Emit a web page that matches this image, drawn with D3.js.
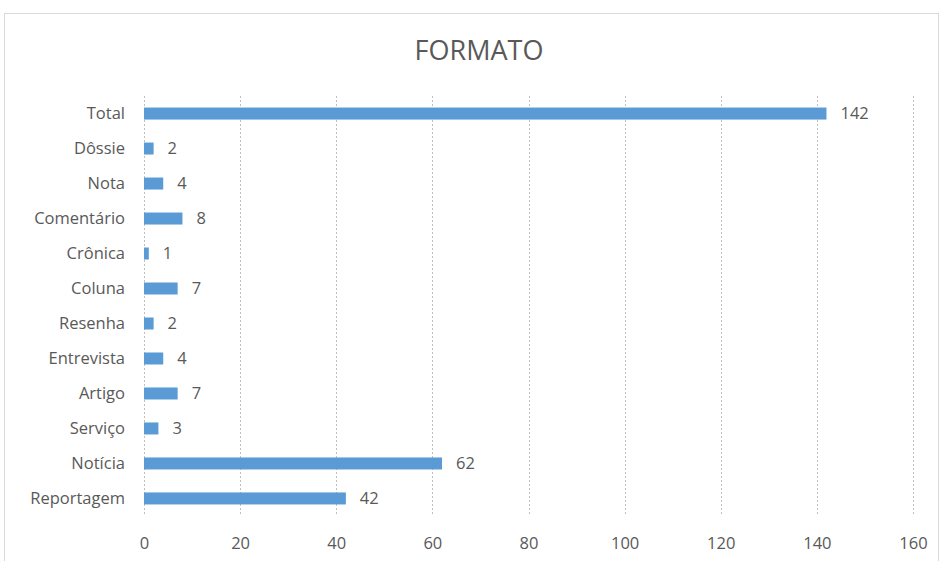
<!DOCTYPE html>
<html><head><meta charset="utf-8">
<script src="https://cdn.jsdelivr.net/npm/d3@7/dist/d3.min.js"></script>
<style>
body{margin:0;background:#fff;}
text{font-family:"Open Sans",sans-serif;fill:#595959;}
</style></head>
<body><svg id="c" width="939" height="561"></svg>
<script>
const categories = ["Total","Dôssie","Nota","Comentário","Crônica","Coluna","Resenha","Entrevista","Artigo","Serviço","Notícia","Reportagem"];
const values = [142,2,4,8,1,7,2,4,7,3,62,42];
const ticks = [0,20,40,60,80,100,120,140,160];
const title = "FORMATO";

const svg = d3.select("#c");
svg.append("rect").attr("x",4.5).attr("y",13.5).attr("width",934).attr("height",560)
  .attr("fill","#fff").attr("stroke","#d9d9d9");

const x = d3.scaleLinear().domain([0,160]).range([144,913]);
const y = d3.scaleBand().domain(categories).range([96,516]).paddingInner(0.657).paddingOuter(0.33);

svg.append("text").attr("x",479).attr("y",60).attr("text-anchor","middle")
  .style("font-size","27px").text(title);

const grid = svg.append("g");
grid.selectAll("line").data(ticks).join("line")
  .attr("x1",d=>Math.round(x(d))+0.5).attr("x2",d=>Math.round(x(d))+0.5)
  .attr("y1",96).attr("y2",516)
  .attr("stroke","#bfbfbf").attr("stroke-dasharray","2,2").attr("stroke-width",1);

const xa = svg.append("g").attr("transform","translate(0,516)")
  .call(d3.axisBottom(x).tickValues(ticks).tickSize(0).tickPadding(21));
xa.select(".domain").remove();
xa.selectAll("text").style("font-size","16.5px").attr("fill","#595959");

const ya = svg.append("g").attr("transform","translate(144,0)")
  .call(d3.axisLeft(y).tickSize(0).tickPadding(19));
ya.select(".domain").remove();
ya.selectAll("text").style("font-size","16.5px").attr("fill","#595959");

svg.append("g").selectAll("rect").data(values).join("rect")
  .attr("x",x(0)).attr("y",(d,i)=>y(categories[i]))
  .attr("width",d=>x(d)-x(0)).attr("height",y.bandwidth())
  .attr("fill","#5b9bd5");

svg.append("g").selectAll("text").data(values).join("text")
  .attr("x",d=>x(d)+14).attr("y",(d,i)=>y(categories[i])+y.bandwidth()/2)
  .attr("dy","0.35em").style("font-size","16.5px").text(d=>d);
</script></body></html>
